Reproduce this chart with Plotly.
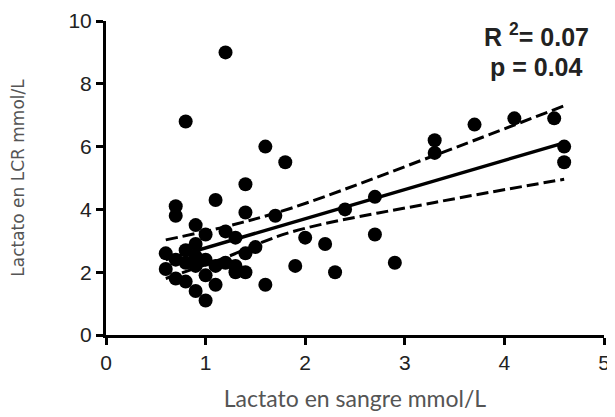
import plotly.graph_objects as go

# Scatter data (Lactato sangre vs Lactato LCR)
blood = [0.6, 0.6, 0.7, 0.7, 0.7, 0.7, 0.8, 0.8, 0.8, 0.8, 0.9, 0.9, 0.9, 0.9, 0.9,
         1.0, 1.0, 1.0, 1.0, 1.1, 1.1, 1.1, 1.2, 1.2, 1.2, 1.3, 1.3, 1.3, 1.4, 1.4,
         1.4, 1.4, 1.5, 1.6, 1.6, 1.7, 1.8, 1.9, 2.0, 2.2, 2.3, 2.4, 2.7, 2.7, 2.9,
         3.3, 3.3, 3.7, 4.1, 4.5, 4.6, 4.6]
csf = [2.6, 2.1, 4.1, 3.8, 2.4, 1.8, 6.8, 2.7, 2.3, 1.7, 3.5, 2.9, 2.5, 2.2, 1.4,
       3.2, 2.4, 1.9, 1.1, 4.3, 2.2, 1.6, 9.0, 3.3, 2.3, 3.1, 2.2, 2.0, 4.8, 3.9,
       2.6, 2.0, 2.8, 6.0, 1.6, 3.8, 5.5, 2.2, 3.1, 2.9, 2.0, 4.0, 4.4, 3.2, 2.3,
       6.2, 5.8, 6.7, 6.9, 6.9, 6.0, 5.5]

# Regression line and confidence band
fit_x = [0.6, 4.6]
fit_y = [2.4, 6.12]
upper_x = [0.6, 1.2, 1.85, 3.3, 4.6]
upper_y = [3.03, 3.45, 4.03, 5.72, 7.3]
lower_x = [0.6, 1.2, 1.85, 3.3, 4.6]
lower_y = [1.8, 2.47, 3.27, 4.22, 4.96]

x_ticks = [0, 1, 2, 3, 4, 5]
y_ticks = [0, 2, 4, 6, 8, 10]

dash_style = dict(color="black", width=3, dash="12px,5px", shape="spline")

fig = go.Figure()
fig.add_trace(go.Scatter(x=upper_x, y=upper_y, mode="lines", line=dash_style, hoverinfo="skip"))
fig.add_trace(go.Scatter(x=lower_x, y=lower_y, mode="lines", line=dash_style, hoverinfo="skip"))
fig.add_trace(go.Scatter(x=fit_x, y=fit_y, mode="lines", line=dict(color="black", width=3.5)))
fig.add_trace(go.Scatter(x=blood, y=csf, mode="markers", marker=dict(color="black", size=14)))

# page body adds an 8px margin, so the figure is 8px smaller and offset
fig.update_layout(
    width=607, height=409,
    margin=dict(l=98, r=11, t=13, b=82),
    paper_bgcolor="white", plot_bgcolor="white",
    showlegend=False,
    font=dict(family="Liberation Sans, Arial", color="#222"),
)
fig.update_xaxes(range=[0, 5], tickvals=x_ticks, showline=True, linecolor="black", linewidth=3,
                 ticks="outside", ticklen=7, tickwidth=3, tickcolor="black", showgrid=False, zeroline=False,
                 automargin=False, tickfont=dict(size=21, color="#222"),
                 title=dict(text="Lactato en sangre mmol/L", font=dict(family="Lato", size=23, color="#555"), standoff=18))
fig.update_yaxes(range=[0, 10], tickvals=y_ticks, showline=True, linecolor="black", linewidth=3,
                 ticks="outside", ticklen=7, tickwidth=3, tickcolor="black", showgrid=False, zeroline=False,
                 automargin=False, tickfont=dict(size=21, color="#222"),
                 title=dict(text="Lactato en LCR mmol/L", font=dict(family="DejaVu Sans", size=17, color="#555"), standoff=43))

fig.add_annotation(x=0.865, y=0.955, xref="paper", yref="paper", text="<b>R <sup>2</sup>= 0.07</b>", showarrow=False,
                   font=dict(size=25, color="#222"), xanchor="center", yanchor="middle")
fig.add_annotation(x=0.865, y=0.855, xref="paper", yref="paper", text="<b>p = 0.04</b>", showarrow=False,
                   font=dict(size=25, color="#222"), xanchor="center", yanchor="middle")

fig.write_html("out.html")
